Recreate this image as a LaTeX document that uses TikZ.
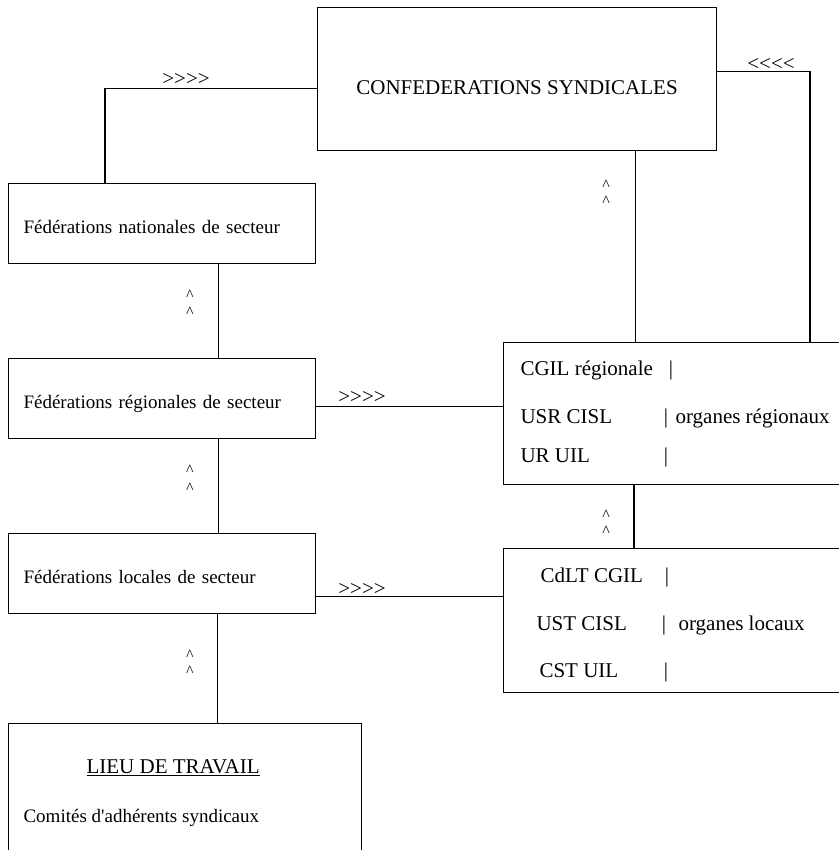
\documentclass[tikz,border=0pt]{standalone}
\usepackage{fontspec}
\setmainfont{Liberation Serif}
\usetikzlibrary{positioning, calc}

\begin{document}
\begin{tikzpicture}[
    x=1pt, y=-1pt,
    line width=1.1pt,
    box/.style={draw, rectangle, anchor=north west, inner sep=0pt},
    fed/.style={box, font=\fontsize{19}{22}\selectfont, align=left,
        text width=277pt, inner xsep=15pt, minimum height=80pt,
        text height=19pt, text depth=0pt},
    org/.style={box, minimum width=347pt, minimum height=142pt},
    entry/.style={font=\fontsize{21}{24}\selectfont, anchor=base west, inner sep=0pt},
    small/.style={entry, font=\fontsize{19}{22}\selectfont},
    bar/.style={entry, anchor=base},
    chev/.style={font=\fontsize{21}{24}\selectfont, anchor=base, inner sep=0pt},
    caret/.style={font=\fontsize{16}{16}\selectfont, anchor=base, inner sep=0pt},
]
\useasboundingbox (0,0) rectangle (838,850);

% the confederations on top
\node[box, minimum width=399pt, minimum height=143pt,
    font=\fontsize{21}{24}\selectfont, text height=31pt, text depth=0pt]
    (conf) at (317,7) {CONFEDERATIONS SYNDICALES};

% sector federations, left column
\node[fed] (fnat) at (8,183) {Fédérations nationales de secteur};
\node[fed] (freg) at (8,358) {Fédérations régionales de secteur};
\node[fed] (floc) at (8,533) {Fédérations locales de secteur};

% workplace
\node[box, minimum width=353pt, minimum height=140pt] (lieu) at (8,723) {};
\node[entry] (lieutitle) at (86,773) {\underline{LIEU DE TRAVAIL}};
\node[small] (comites) at (23,822) {Comités d\textquotesingle adhérents syndicaux};

% regional bodies
\node[org] (reg) at (503,342) {};
\node[entry] (cgilr) at (520,375) {CGIL régionale};
\node[entry] (usr) at (520,423) {USR CISL};
\node[entry] (urr) at (520,462) {UR UIL};
\node[bar] (barr1) at (671,375) {|};
\node[bar] (barr2) at (666,423) {|};
\node[bar] (barr3) at (666,462) {|};
\node[entry] (orgreg) at (675,423) {organes régionaux};

% local bodies
\node[org, minimum height=144pt] (loc) at (503,548) {};
\node[entry] (cdlt) at (540,582) {CdLT CGIL};
\node[entry] (ust) at (536,630) {UST CISL};
\node[entry] (cst) at (539,677) {CST UIL};
\node[bar] (barl1) at (667,582) {|};
\node[bar] (barl2) at (664,630) {|};
\node[bar] (barl3) at (666,677) {|};
\node[entry] (orgloc) at (678,630) {organes locaux};

% connectors
\draw ([yshift=-9.5pt]conf.west) -| ([xshift=97pt]fnat.north west);
\draw ([yshift=7.5pt]conf.east) -| ([xshift=307pt]reg.north west);
\draw ([xshift=118.5pt]conf.south) -- ([xshift=118.5pt]conf.south |- reg.north);
\draw ([xshift=56pt]fnat.south) -- ([xshift=56pt]fnat.south |- freg.north);
\draw ([xshift=56pt]freg.south) -- ([xshift=56pt]freg.south |- floc.north);
\draw ([xshift=55pt]floc.south) -- ([xshift=55pt]floc.south |- lieu.north);
\draw ([yshift=-8pt]freg.east) -- ([yshift=-8pt]freg.east -| reg.west);
\draw ([yshift=-23pt]floc.east) -- ([yshift=-23pt]floc.east -| loc.west);
\draw ([xshift=131pt]reg.south west) -- ([xshift=131pt]reg.south west |- loc.north);

% direction marks
\node[chev] (chnat) at (186,85.5) {>\kern0pt>\kern0pt>\kern0pt>};
\node[chev] (chreg) at (362,403.5) {>\kern0pt>\kern0pt>\kern0pt>};
\node[chev] (chloc) at (362,595.5) {>\kern0pt>\kern0pt>\kern0pt>};
\node[chev] (chconf) at (771,70.5) {<\kern0pt<\kern0pt<\kern0pt<};
\foreach \cx/\cy in {190/300, 190/317, 190/475, 190/493, 190/660, 190/676,
                     606/191, 606/207, 606/520, 606/536}{
    \node[caret] at (\cx,\cy) {\textasciicircum};
}
\end{tikzpicture}
\end{document}
